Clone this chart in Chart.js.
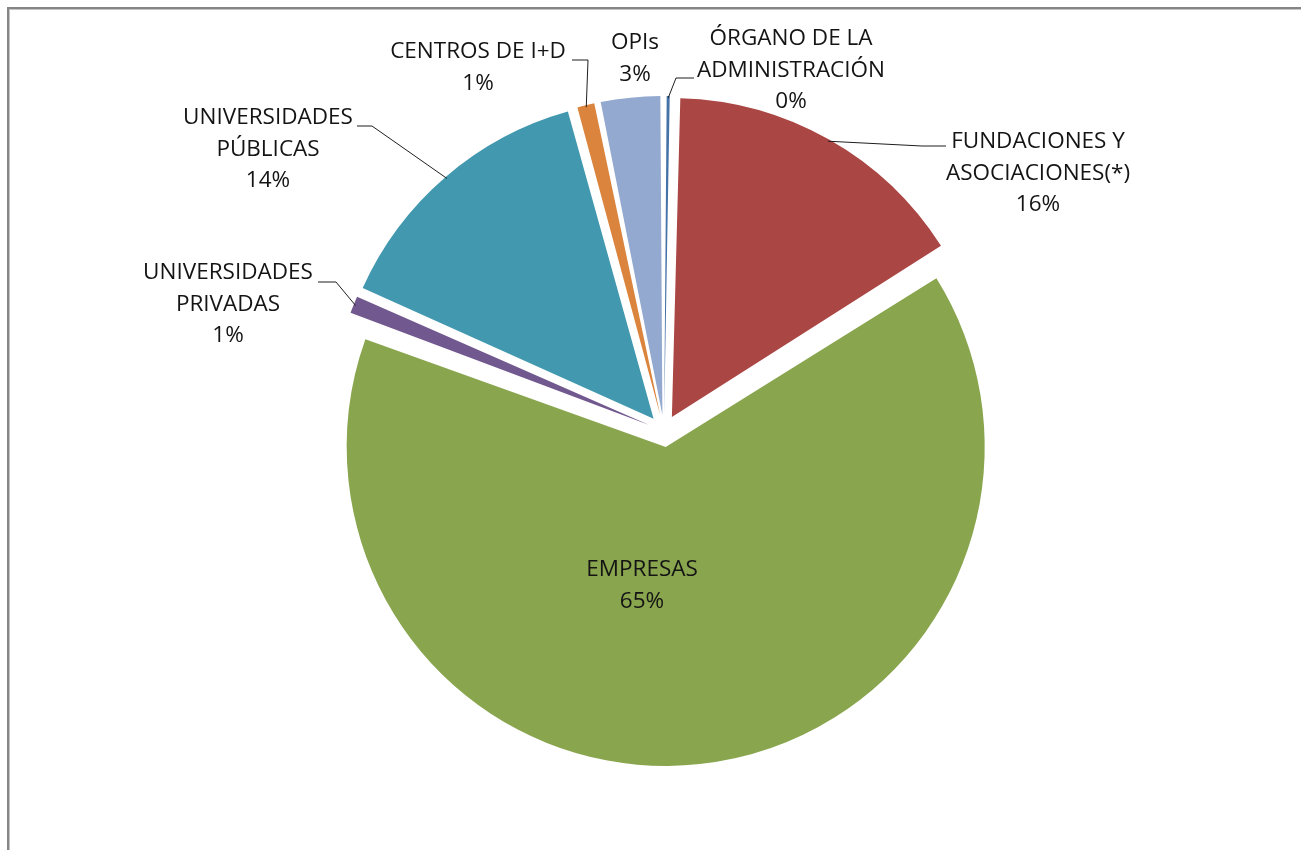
<!DOCTYPE html>
<html>
<head>
<meta charset="utf-8">
<script src="https://cdn.jsdelivr.net/npm/chart.js@4.4.1/dist/chart.umd.min.js"></script>
<style>
  html, body { margin: 0; padding: 0; background: #ffffff; }
  #wrap { position: relative; width: 1301px; height: 850px; overflow: hidden; }
  #frame { position: absolute; left: 7px; top: 7px; right: -10px; bottom: -10px;
           border-left: 2px solid #858585; border-top: 2px solid #858585; }
  #frame2 { position: absolute; left: 0; top: 0; right: 0; bottom: 0;
            border-left: 1px solid #c4c4c4; border-top: 1px solid #c4c4c4; }
  canvas { position: absolute; left: 0; top: 0; }
</style>
</head>
<body>
<div id="wrap">
  <div id="frame"><div id="frame2"></div></div>
  <canvas id="chart" width="1301" height="850"></canvas>
</div>
<script>
// data, clockwise from 12 o'clock
const categories = [
  ['ÓRGANO DE LA', 'ADMINISTRACIÓN'],
  ['FUNDACIONES Y', 'ASOCIACIONES(*)'],
  ['EMPRESAS'],
  ['UNIVERSIDADES', 'PRIVADAS'],
  ['UNIVERSIDADES', 'PÚBLICAS'],
  ['CENTROS DE I+D'],
  ['OPIs']
];
const shares = [0.4, 15.6, 64.6, 1.1, 14.0, 1.1, 3.2];
const colors = ['#4572A7', '#AA4643', '#89A54E', '#71588F', '#4198AF', '#DB843D', '#93A9CF'];

// label placement (centre of first text line) and leader line elbows
const labelPos = [
  { x: 791, y: 39, elbow: [676, 78], tail: 694 },
  { x: 1038, y: 142, elbow: [922, 146], tail: 946 },
  { x: 642, y: 570 },
  { x: 228, y: 273, elbow: [336, 282], tail: 318 },
  { x: 268, y: 118, elbow: [372, 126], tail: 357 },
  { x: 478, y: 52, elbow: [588, 60], tail: 572 },
  { x: 635, y: 43 }
];

const RADIUS = 319;
const EXPLODE = 16;      // px each slice is pulled out
const LINE_H = 31.5;
const FONT = '22.5px "Open Sans", "DejaVu Sans", sans-serif';

const total = shares.reduce((a, b) => a + b, 0);

// Chart.js grows arcs by offset*(1-sin(angle)); undo that so every slice keeps RADIUS
const radiusFix = {
  id: 'radiusFix',
  afterDatasetUpdate(chart, args) {
    const meta = chart.getDatasetMeta(args.index);
    meta.data.forEach(arc => {
      const fix = 1 - Math.sin(Math.min(Math.PI, arc.circumference));
      arc.outerRadius = RADIUS - EXPLODE * fix;
    });
  }
};

const sliceLabels = {
  id: 'sliceLabels',
  afterDatasetsDraw(chart) {
    const ctx = chart.ctx;
    const meta = chart.getDatasetMeta(0);
    ctx.save();
    ctx.font = FONT;
    ctx.fillStyle = '#141414';
    ctx.textAlign = 'center';
    ctx.textBaseline = 'middle';
    ctx.strokeStyle = '#1e1e1e';
    ctx.lineWidth = 1;

    meta.data.forEach((arc, i) => {
      const pos = labelPos[i];
      const lines = categories[i].concat([Math.round(shares[i] / total * 100) + '%']);
      lines.forEach((t, k) => ctx.fillText(t, pos.x, pos.y + k * LINE_H));

      if (pos.elbow) {
        const mid = (arc.startAngle + arc.endAngle) / 2;
        const r = RADIUS + EXPLODE - 2;
        const sx = arc.x + Math.cos(mid) * r;
        const sy = arc.y + Math.sin(mid) * r;
        ctx.beginPath();
        ctx.moveTo(sx, sy);
        ctx.lineTo(pos.elbow[0], pos.elbow[1]);
        ctx.lineTo(pos.tail, pos.elbow[1]);
        ctx.stroke();
      }
    });
    ctx.restore();
  }
};

new Chart(document.getElementById('chart'), {
  type: 'pie',
  data: {
    labels: categories,
    datasets: [{
      data: shares,
      backgroundColor: colors,
      borderWidth: 0,
      offset: EXPLODE * 4,
      radius: RADIUS
    }]
  },
  options: {
    responsive: false,
    animation: false,
    events: [],
    layout: { padding: { left: 27, top: 12, right: 0, bottom: 0 } },
    plugins: {
      legend: { display: false },
      tooltip: { enabled: false }
    }
  },
  plugins: [radiusFix, sliceLabels]
});
</script>
</body>
</html>
